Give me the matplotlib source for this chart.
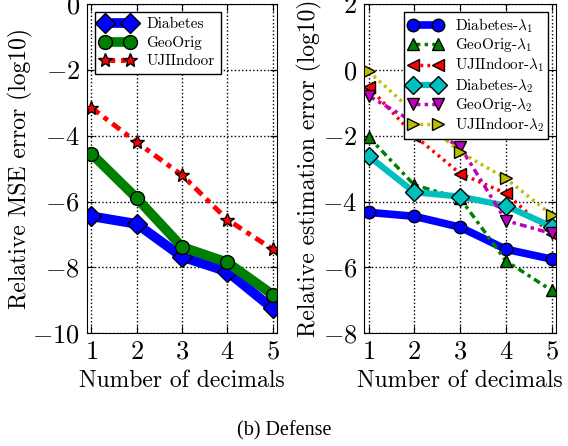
import matplotlib
matplotlib.use("Agg")
import matplotlib.pyplot as plt

plt.rcParams["font.family"] = "serif"
plt.rcParams["font.serif"] = ["cmr10"]
plt.rcParams["mathtext.fontset"] = "cm"
plt.rcParams["axes.formatter.use_mathtext"] = True
plt.rcParams["axes.unicode_minus"] = True

decimals = [1, 2, 3, 4, 5]

# left panel: relative MSE error (log10)
mse_diabetes = [-6.45, -6.68, -7.68, -8.13, -9.25]
mse_geoorig = [-4.55, -5.9, -7.38, -7.85, -8.83]
mse_uji = [-3.15, -4.2, -5.2, -6.55, -7.45]

# right panel: relative estimation error (log10)
est_diabetes_l1 = [-4.33, -4.45, -4.78, -5.45, -5.75]
est_geoorig_l1 = [-2.04, -3.5, -3.9, -5.8, -6.7]
est_uji_l1 = [-0.52, -2.0, -3.15, -3.75, -5.0]
est_diabetes_l2 = [-2.62, -3.72, -3.85, -4.13, -4.76]
est_geoorig_l2 = [-0.79, -1.6, -2.33, -4.58, -4.97]
est_uji_l2 = [-0.05, -1.3, -2.5, -3.3, -4.4]

dashdot = (0, (2, 1.2, 1, 1.2))
dotted = (0, (0.8, 1.2))

fig = plt.figure(figsize=(5.68, 4.46), dpi=100)
ax1 = fig.add_axes([0.153, 0.253, 0.335, 0.738])
ax2 = fig.add_axes([0.641, 0.253, 0.338, 0.738])

ax1.plot(decimals, mse_diabetes, "-", color="b", lw=7, marker="D", ms=10,
         mfc="b", mec="k", label="Diabetes")
ax1.plot(decimals, mse_geoorig, "-", color="g", lw=7, marker="o", ms=10,
         mfc="g", mec="k", label="GeoOrig")
ax1.plot(decimals, mse_uji, linestyle=dashdot, color="r", lw=3.5, marker="*",
         ms=10, mfc="r", mec="k", label="UJIIndoor")
ax1.set_xlim(0.9, 5.1)
ax1.set_ylim(-10, 0)
ax1.set_yticks([-10, -8, -6, -4, -2, 0])
ax1.set_xlabel("Number of decimals", fontsize=17)
ax1.set_ylabel("Relative MSE error (log10)", fontsize=17)
ax1.yaxis.set_label_coords(-0.285, 0.5)
ax1.legend(loc="upper left", numpoints=2, fontsize=11, fancybox=False,
           framealpha=1, edgecolor="k", handlelength=2.2, borderpad=0.4,
           labelspacing=0.3)

ax2.plot(decimals, est_diabetes_l1, "-", color="b", lw=5.5, marker="o", ms=9,
         mfc="b", mec="k", label=r"Diabetes-$\lambda_1$")
ax2.plot(decimals, est_geoorig_l1, linestyle=dashdot, color="g", lw=2.5,
         marker="^", ms=9, mfc="g", mec="k", label=r"GeoOrig-$\lambda_1$")
ax2.plot(decimals, est_uji_l1, linestyle=dotted, color="r", lw=2.5,
         marker="<", ms=9, mfc="r", mec="k", label=r"UJIIndoor-$\lambda_1$")
ax2.plot(decimals, est_diabetes_l2, "-", color="c", lw=4.5, marker="D", ms=9,
         mfc="c", mec="k", label=r"Diabetes-$\lambda_2$")
ax2.plot(decimals, est_geoorig_l2, linestyle=dashdot, color="m", lw=2.5,
         marker="v", ms=9, mfc="m", mec="k", label=r"GeoOrig-$\lambda_2$")
ax2.plot(decimals, est_uji_l2, linestyle=dotted, color="y", lw=2.5,
         marker=">", ms=9, mfc="y", mec="k", label=r"UJIIndoor-$\lambda_2$")
ax2.set_xlim(0.9, 5.1)
ax2.set_ylim(-8, 2)
ax2.set_yticks([-8, -6, -4, -2, 0, 2])
ax2.set_xlabel("Number of decimals", fontsize=17)
ax2.set_ylabel("Relative estimation error (log10)", fontsize=17)
ax2.yaxis.set_label_coords(-0.22, 0.5)
ax2.legend(loc="upper right", numpoints=2, fontsize=11, fancybox=False,
           framealpha=1, edgecolor="k", handlelength=2.2, borderpad=0.3,
           labelspacing=0.1)

for ax in (ax1, ax2):
    ax.set_xticks(decimals)
    ax.grid(True, color="k", linestyle=":", linewidth=1)
    ax.tick_params(direction="in", top=True, right=True, labelsize=19,
                   length=5, pad=5)

fig.text(0.5, 0.034, "(b) Defense", ha="center", va="center", fontsize=14.5,
         family="Liberation Serif")

fig.savefig("out.png", dpi=100)
